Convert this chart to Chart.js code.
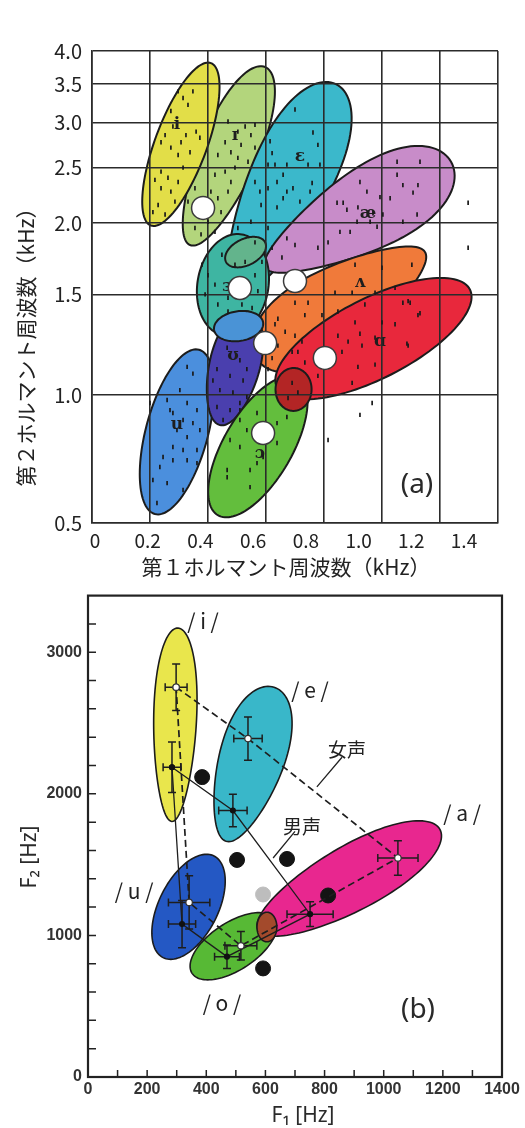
<!DOCTYPE html>
<html>
<head>
<meta charset="utf-8">
<script src="https://cdn.jsdelivr.net/npm/chart.js@4.4.1/dist/chart.umd.min.js"></script>
<style>
  html, body { margin: 0; padding: 0; background: #ffffff; }
  #wrap { position: relative; width: 525px; height: 1128px; overflow: hidden; }
  canvas { position: absolute; left: 0; }
  #chartA { top: 0; }
  #chartB { top: 580px; }
</style>
</head>
<body>
<div id="wrap">
  <canvas id="chartA" width="525" height="580"></canvas>
  <canvas id="chartB" width="525" height="548"></canvas>
</div>
<script>
// ===== (a) Peterson–Barney style vowel map: F1 (kHz, linear) vs F2 (kHz, log) =====
const f1GridA = [0, 0.2, 0.4, 0.6, 0.8, 1.0, 1.2, 1.4];
const f1TickLabelsA = ['0', '0.2', '0.4', '0.6', '0.8', '1.0', '1.2', '1.4'];
const f2TickValuesA = [0.597, 1.0, 1.5, 2.0, 2.5, 3.0, 3.5, 4.0];
const f2TickLabelsA = ['0.5', '1.0', '1.5', '2.0', '2.5', '3.0', '3.5', '4.0'];

// vowel regions: the two ends of each region's long axis (F1 kHz, F2 kHz)
const regionNamesA = ['ɪ', 'i', 'ɛ', 'æ', 'ɜ', 'ɜ∩ɪ', 'ʌ', 'u', 'ʊ', 'ʊ∩ɜ', 'ɔ', 'ɑ', 'ɑ∩ɔ'];
const regionEnd1A = [[0.338, 1.83], [0.203, 1.98], [0.490, 1.49], [0.597, 1.67], [0.455, 1.27], [0.462, 1.71],
                     [1.148, 1.78], [0.217, 0.619], [0.441, 0.886], [0.421, 1.30], [0.434, 0.616], [0.638, 1.03], [0.693, 0.938]];
const regionEnd2A = [[0.597, 3.75], [0.410, 3.81], [0.841, 3.50], [1.238, 2.56], [0.517, 1.91], [0.597, 1.85],
                     [0.566, 1.16], [0.369, 1.20], [0.538, 1.40], [0.590, 1.34], [0.710, 1.07], [1.303, 1.53], [0.697, 1.115]];
const regionAspectA = [0.30, 0.30, 0.34, 0.37, 0.69, 0.60, 0.40, 0.365, 0.43, 0.60, 0.43, 0.37, 0.84];
const regionTaperA  = [0.10, 0, 0.25, 0.35, 0, 0, 0.30, 0, 0.10, 0, 0, 0, 0];
const regionColorsA = ['#b3d57c', '#e2de48', '#3bb8cb', '#c88cc9', '#3eb5a2', '#63b48c',
                       '#f07a3a', '#4b8fdd', '#4a3fae', '#4a93d6', '#63be3d', '#e8283c', '#b32525'];

// phonetic symbols written inside the regions
const symbolTextA = ['i', 'ɪ', 'ɛ', 'æ', 'ʌ', 'ɑ', 'ɜ', 'ʊ', 'u', 'ɔ'];
const symbolF1A = [0.293, 0.493, 0.717, 0.952, 0.924, 0.993, 0.466, 0.486, 0.293, 0.579];
const symbolF2A = [2.97, 2.85, 2.61, 2.08, 1.57, 1.24, 1.55, 1.17, 0.886, 0.791];

// individual speakers' measurements (F1 kHz, F2 kHz)
const dotsI = [[0.297,3.40],[0.314,3.31],[0.348,3.40],[0.331,3.22],[0.272,3.14],[0.279,2.95],[0.252,2.85],[0.238,2.77],
  [0.272,2.71],[0.307,2.77],[0.324,2.85],[0.359,2.89],[0.372,2.82],[0.297,2.63],[0.238,2.46],[0.217,2.38],[0.262,2.40],
  [0.238,2.30],[0.272,2.27],[0.286,2.18],[0.228,2.15],[0.210,2.09],[0.252,2.07],[0.297,2.36],[0.314,2.50],[0.338,2.66]];
const dotsIH = [[0.469,3.01],[0.503,2.89],[0.528,2.95],[0.548,2.85],[0.562,2.97],[0.514,2.74],[0.479,2.66],[0.459,2.77],
  [0.434,2.63],[0.503,2.60],[0.538,2.56],[0.493,2.50],[0.459,2.46],[0.479,2.36],[0.424,2.43],[0.410,2.27],[0.469,2.27],
  [0.434,2.21],[0.355,2.30],[0.331,2.18],[0.400,2.01],[0.355,1.96],[0.376,1.91],[0.424,1.93],[0.445,2.09],[0.562,2.71]];
const dotsEH = [[0.700,3.16],[0.762,2.88],[0.779,2.74],[0.614,2.78],[0.621,2.65],[0.631,2.53],[0.672,2.53],[0.745,2.53],
  [0.786,2.53],[0.659,2.43],[0.638,2.36],[0.672,2.27],[0.693,2.30],[0.759,2.35],[0.752,2.27],[0.659,2.21],[0.638,2.13],
  [0.717,2.18],[0.579,2.27],[0.607,2.53],[0.562,2.36],[0.607,2.30],[0.583,2.15],[0.548,2.01],[0.503,1.96],[0.607,1.96],
  [0.562,1.85],[0.621,1.81]];
const dotsAE = [[1.052,2.56],[1.131,2.56],[1.052,2.43],[1.072,2.33],[1.124,2.33],[1.107,2.26],[0.948,2.27],[0.924,2.36],
  [0.993,2.22],[1.028,2.21],[0.845,2.17],[0.866,2.17],[0.879,2.11],[0.917,2.13],[0.969,2.08],[1.003,2.07],[0.959,2.01],
  [0.914,2.01],[1.072,2.01],[1.121,2.07],[0.855,1.93],[0.890,1.93],[0.983,1.97],[0.814,1.85],[0.779,1.81],[0.700,1.83],
  [0.655,1.74],[0.672,1.88]];
const dotsER = [[0.379,1.69],[0.400,1.62],[0.424,1.56],[0.434,1.44],[0.469,1.48],[0.517,1.44],[0.552,1.42],[0.562,1.62],
  [0.572,1.52],[0.586,1.71],[0.493,1.69],[0.448,1.76],[0.390,1.50],[0.469,1.40],[0.528,1.71]];
const dotsUH = [[0.907,1.69],[1.000,1.67],[1.103,1.69],[1.045,1.54],[0.976,1.51],[0.897,1.51],[0.838,1.51],[0.745,1.45],
  [0.700,1.45],[0.734,1.38],[0.793,1.38],[0.848,1.40],[0.641,1.36],[0.666,1.29],[0.700,1.27],[0.641,1.22],[0.621,1.16],
  [0.607,1.11],[0.690,1.19],[0.724,1.24],[0.941,1.44],[0.631,1.33]];
const dotsAA = [[0.907,1.34],[1.000,1.34],[1.045,1.33],[1.090,1.46],[1.124,1.38],[0.976,1.26],[0.931,1.22],[0.883,1.24],
  [0.848,1.27],[0.862,1.19],[0.814,1.16],[0.734,1.14],[0.710,1.19],[0.779,1.08],[0.917,1.12],[0.897,1.05],[1.090,1.22],
  [0.976,1.13],[1.072,1.45],[1.097,1.45],[1.131,1.39],[0.924,1.28],[1.086,1.23],[0.690,1.05],[0.710,1.01],[0.676,0.988]];
const dotsOO = [[0.476,1.17],[0.510,1.15],[0.431,1.11],[0.476,1.08],[0.521,1.06],[0.441,1.02],[0.486,1.01],[0.534,0.992],
  [0.431,0.953],[0.476,0.941],[0.510,0.968],[0.452,0.904],[0.417,1.06],[0.534,1.11],[0.466,1.21]];
const dotsU = [[0.328,1.12],[0.348,1.09],[0.303,1.02],[0.259,0.98],[0.328,0.968],[0.362,0.941],[0.279,0.930],[0.314,0.904],
  [0.348,0.893],[0.372,0.868],[0.293,0.868],[0.328,0.844],[0.279,0.811],[0.314,0.801],[0.362,0.801],[0.245,0.779],
  [0.279,0.769],[0.328,0.769],[0.362,0.760],[0.234,0.748],[0.210,0.710],[0.259,0.701],[0.314,0.682],[0.224,0.647],
  [0.269,0.941],[0.200,0.968]];
const dotsAW = [[0.510,0.941],[0.569,0.930],[0.476,0.834],[0.510,0.811],[0.534,0.868],[0.638,0.893],[0.672,0.915],
  [0.590,0.779],[0.545,0.739],[0.466,0.739],[0.466,0.718],[0.545,0.690],[0.569,0.760],[0.638,0.824],[0.614,0.868],[0.510,0.904]];
const dotsOutside = [[1.297,2.17],[1.297,1.81],[0.966,0.968],[0.924,0.923],[0.814,0.834]];

// averages marked with open circles
const meanF1A = [0.383, 0.510, 0.700, 0.597, 0.803, 0.590];
const meanF2A = [2.125, 1.539, 1.583, 1.233, 1.161, 0.858];

// ===== (b) F1–F2 plane in Hz, female and male averages =====
const f1LabelValuesB = [0, 200, 400, 600, 800, 1000, 1200, 1400];
const f2LabelValuesB = [0, 1000, 2000, 3000];

const vowelsB = ['i', 'e', 'a', 'o', 'u'];
const femaleF1 = [298, 541, 1048, 517, 342];
const femaleF2 = [2753, 2390, 1547, 927, 1233];
const femaleF1Sd = [37, 48, 68, 54, 70];
const femaleF2Sd = [164, 153, 122, 100, 188];
const maleF1 = [284, 490, 751, 470, 318];
const maleF2 = [2188, 1882, 1150, 850, 1080];
const maleF1Sd = [30, 48, 78, 42, 46];
const maleF2Sd = [178, 115, 87, 83, 167];

const otherF1 = [386, 504, 673, 812, 592];
const otherF2 = [2118, 1533, 1540, 1282, 767];
const greyF1 = [592];
const greyF2 = [1289];

// vowel regions (Hz): axis ends, aspect and taper
const regionNamesB = ['i', 'e', 'u', 'o', 'a', 'a∩o'];
const regionEnd1B = [[284, 1805], [467, 1665], [254, 843], [352, 732], [575, 1038], [605, 955]];
const regionEnd2B = [[304, 3171], [629, 2753], [426, 1561], [632, 1115], [1190, 1749], [605, 1164]];
const regionAspectB = [0.22, 0.40, 0.52, 0.48, 0.31, 0.67];
const regionTaperB = [0.15, 0.20, 0, 0, 0.10, 0];
const regionColorsB = ['#e9e64c', '#39b7c9', '#2458c4', '#57b935', '#e8278f', '#a34a2c'];

const labelTextB = ['/ i /', '/ e /', '/ a /', '/ u /', '/ o /', '女声', '男声'];
const labelF1B = [389, 751, 1265, 156, 453, 876, 724];
const labelF2B = [3219, 2732, 1861, 1317, 523, 2314, 1770];
const leaderF1B = [[859, 774], [700, 626]];
const leaderF2B = [[2258, 2049], [1735, 1547]];

// ---------- helpers ----------
const JP = '"Noto Sans CJK JP", "Noto Sans", sans-serif';

function toPixel(chart, v) {
  return { x: chart.scales.x.getPixelForValue(v[0]), y: chart.scales.y.getPixelForValue(v[1]) };
}

// closed oval between two axis ends; taper widens it toward the second end
function ovalPath(ctx, p1, p2, aspect, taper) {
  const cx = (p1.x + p2.x) / 2, cy = (p1.y + p2.y) / 2;
  const dx = p2.x - p1.x, dy = p2.y - p1.y;
  const len = Math.hypot(dx, dy);
  const a = len / 2, b = a * aspect;
  const ux = dx / len, uy = dy / len, nx = -uy, ny = ux;
  ctx.beginPath();
  const n = 120;
  for (let i = 0; i <= n; i++) {
    const t = (i / n) * Math.PI * 2;
    const c = Math.cos(t), s = Math.sin(t);
    const lx = a * c, ly = b * s * (1 + taper * c);
    const X = cx + ux * lx + nx * ly, Y = cy + uy * lx + ny * ly;
    if (i === 0) ctx.moveTo(X, Y); else ctx.lineTo(X, Y);
  }
  ctx.closePath();
}

function drawRegions(chart, ends1, ends2, aspects, tapers, colors, lw) {
  const ctx = chart.ctx;
  ctx.save();
  for (let i = 0; i < ends1.length; i++) {
    ovalPath(ctx, toPixel(chart, ends1[i]), toPixel(chart, ends2[i]), aspects[i], tapers[i]);
    ctx.fillStyle = colors[i];
    ctx.fill();
    ctx.lineWidth = lw;
    ctx.strokeStyle = '#1c1c1c';
    ctx.stroke();
  }
  ctx.restore();
}

const dotStyle = {
  showLine: false, pointStyle: 'line', rotation: 90, pointRadius: 2.2,
  pointBorderWidth: 1.7, pointBorderColor: '#1a1a1a', pointBackgroundColor: '#1a1a1a', order: 2
};
function dotSet(label, arr) {
  return Object.assign({ label, data: arr.map(p => ({ x: p[0], y: p[1] })) }, dotStyle);
}

// ---------- chart (a) ----------
const regionsPluginA = {
  id: 'regionsA',
  beforeDraw(chart) {
    drawRegions(chart, regionEnd1A, regionEnd2A, regionAspectA, regionTaperA, regionColorsA, 2);
    const ctx = chart.ctx;
    ctx.save();
    ctx.fillStyle = '#1e1e1e';
    ctx.font = 'bold 17px "DejaVu Serif", "Liberation Serif", serif';
    ctx.textAlign = 'center';
    ctx.textBaseline = 'middle';
    symbolTextA.forEach((s, i) => {
      const p = toPixel(chart, [symbolF1A[i], symbolF2A[i]]);
      ctx.fillText(s, p.x, p.y);
    });
    ctx.restore();
  }
};

const titlesPluginA = {
  id: 'titlesA',
  afterDraw(chart) {
    const ctx = chart.ctx;
    ctx.save();
    ctx.fillStyle = '#222';
    ctx.textAlign = 'center';
    ctx.textBaseline = 'middle';
    ctx.font = '21px ' + JP;
    ctx.fillText('第１ホルマント周波数（kHz）', 286, 567);
    ctx.translate(26, 342);
    ctx.rotate(-Math.PI / 2);
    ctx.fillText('第２ホルマント周波数（kHz）', 0, 0);
    ctx.restore();
    ctx.save();
    ctx.fillStyle = '#2a2a2a';
    ctx.textAlign = 'center';
    ctx.textBaseline = 'middle';
    ctx.font = '28px "Noto Sans", sans-serif';
    ctx.fillText('(a)', 417, 485);
    ctx.restore();
  }
};

new Chart(document.getElementById('chartA'), {
  type: 'scatter',
  data: {
    datasets: [
      {
        label: 'mean', data: meanF1A.map((v, i) => ({ x: v, y: meanF2A[i] })),
        pointRadius: 11.5, pointBackgroundColor: '#ffffff', pointBorderColor: '#3a3a3a',
        pointBorderWidth: 1.5, showLine: false, order: 0
      },
      dotSet('i', dotsI), dotSet('ɪ', dotsIH), dotSet('ɛ', dotsEH), dotSet('æ', dotsAE),
      dotSet('ɜ', dotsER), dotSet('ʌ', dotsUH), dotSet('ɑ', dotsAA), dotSet('ʊ', dotsOO),
      dotSet('u', dotsU), dotSet('ɔ', dotsAW), dotSet('other', dotsOutside)
    ]
  },
  options: {
    responsive: false, animation: false, devicePixelRatio: 1,
    layout: { padding: { top: 51, right: 27, left: 0, bottom: 0 } },
    plugins: { legend: { display: false }, tooltip: { enabled: false } },
    scales: {
      x: {
        type: 'linear', min: 0, max: 1.4, position: 'bottom',
        afterBuildTicks(s) { s.ticks = f1GridA.map(v => ({ value: v })); },
        ticks: { display: false },
        grid: { color: '#2b2b2b', lineWidth: 1.6, drawTicks: false },
        border: { color: '#2b2b2b', width: 1.6 },
        afterFit(s) { s.height = 0; }
      },
      xl: {
        type: 'linear', min: -0.0114, max: 1.529, position: 'bottom',
        afterBuildTicks(s) { s.ticks = f1GridA.map(v => ({ value: v })); },
        ticks: {
          padding: 6, color: '#222', maxRotation: 0, autoSkip: false,
          font: { family: JP, size: 19 },
          callback: (v, i) => f1TickLabelsA[i]
        },
        grid: { display: false, drawTicks: false },
        border: { display: false },
        afterFit(s) { s.height = 57; }
      },
      y: {
        type: 'logarithmic', min: 0.597, max: 4.0,
        afterBuildTicks(s) { s.ticks = f2TickValuesA.map(v => ({ value: v })); },
        ticks: {
          padding: 10, color: '#222', autoSkip: false,
          font: { family: JP, size: 20 },
          callback: (v, i) => f2TickLabelsA[i]
        },
        grid: { color: '#2b2b2b', lineWidth: 1.6, drawTicks: false },
        border: { color: '#2b2b2b', width: 1.6 },
        afterFit(s) { s.width = 92; }
      }
    }
  },
  plugins: [regionsPluginA, titlesPluginA]
});

// ---------- chart (b) ----------
function drawErrorBars(chart, f1, f2, e1, e2) {
  const ctx = chart.ctx, xs = chart.scales.x, ys = chart.scales.y;
  const cap = 4;
  ctx.beginPath();
  for (let i = 0; i < f1.length; i++) {
    const x = xs.getPixelForValue(f1[i]), y = ys.getPixelForValue(f2[i]);
    const xl = xs.getPixelForValue(f1[i] - e1[i]), xr = xs.getPixelForValue(f1[i] + e1[i]);
    const yt = ys.getPixelForValue(f2[i] + e2[i]), yb = ys.getPixelForValue(f2[i] - e2[i]);
    ctx.moveTo(xl, y); ctx.lineTo(xr, y);
    ctx.moveTo(xl, y - cap); ctx.lineTo(xl, y + cap);
    ctx.moveTo(xr, y - cap); ctx.lineTo(xr, y + cap);
    ctx.moveTo(x, yt); ctx.lineTo(x, yb);
    ctx.moveTo(x - cap, yt); ctx.lineTo(x + cap, yt);
    ctx.moveTo(x - cap, yb); ctx.lineTo(x + cap, yb);
  }
  ctx.stroke();
}

const regionsPluginB = {
  id: 'regionsB',
  beforeDatasetsDraw(chart) {
    drawRegions(chart, regionEnd1B, regionEnd2B, regionAspectB, regionTaperB, regionColorsB, 1.6);
    const ctx = chart.ctx;
    ctx.save();
    ctx.strokeStyle = '#1e1e1e';
    ctx.lineWidth = 1.5;
    drawErrorBars(chart, femaleF1, femaleF2, femaleF1Sd, femaleF2Sd);
    drawErrorBars(chart, maleF1, maleF2, maleF1Sd, maleF2Sd);
    ctx.restore();
  }
};

const framePluginB = {
  id: 'frameB',
  afterDatasetsDraw(chart) {
    const { ctx, chartArea: ca, scales: { x, y } } = chart;
    ctx.save();
    ctx.strokeStyle = '#222';
    ctx.lineWidth = 1.5;
    ctx.beginPath();
    x.ticks.forEach(t => {
      const px = x.getPixelForValue(t.value);
      if (px > ca.left + 2 && px < ca.right - 2) { ctx.moveTo(px, ca.bottom); ctx.lineTo(px, ca.bottom - 7); }
    });
    y.ticks.forEach(t => {
      const py = y.getPixelForValue(t.value);
      if (py < ca.bottom - 2 && py > ca.top + 2) { ctx.moveTo(ca.left, py); ctx.lineTo(ca.left + 8, py); }
    });
    ctx.stroke();
    ctx.lineWidth = 2.2;
    ctx.strokeRect(ca.left, ca.top, ca.right - ca.left, ca.bottom - ca.top);

    // leader lines for the two speaker groups
    ctx.lineWidth = 1.3;
    ctx.beginPath();
    leaderF1B.forEach((pair, i) => {
      ctx.moveTo(x.getPixelForValue(pair[0]), y.getPixelForValue(leaderF2B[i][0]));
      ctx.lineTo(x.getPixelForValue(pair[1]), y.getPixelForValue(leaderF2B[i][1]));
    });
    ctx.stroke();

    ctx.fillStyle = '#222';
    ctx.textAlign = 'center';
    ctx.textBaseline = 'middle';
    labelTextB.forEach((t, i) => {
      ctx.font = (i >= 5 ? '19px ' : '21px ') + JP;
      ctx.fillText(t, x.getPixelForValue(labelF1B[i]), y.getPixelForValue(labelF2B[i]));
    });

    ctx.font = '21px "Noto Sans", sans-serif';
    ctx.fillStyle = '#2a2a2a';
    ctx.fillText('F₁ [Hz]', 303, 536);
    ctx.save();
    ctx.translate(30, 277);
    ctx.rotate(-Math.PI / 2);
    ctx.fillText('F₂ [Hz]', 0, 0);
    ctx.restore();
    ctx.font = '28px "Noto Sans", sans-serif';
    ctx.fillText('(b)', 418, 430);
    ctx.restore();
  }
};

const closeLoop = (a, b) => a.map((v, i) => ({ x: v, y: b[i] })).concat([{ x: a[0], y: b[0] }]);

new Chart(document.getElementById('chartB'), {
  type: 'scatter',
  data: {
    datasets: [
      {
        label: '女声', data: closeLoop(femaleF1, femaleF2), showLine: true,
        borderColor: '#1e1e1e', borderWidth: 1.7, borderDash: [7, 4], fill: false,
        pointRadius: 3.2, pointBackgroundColor: '#ffffff', pointBorderColor: '#333', pointBorderWidth: 1.2, order: 0
      },
      {
        label: '男声', data: closeLoop(maleF1, maleF2), showLine: true,
        borderColor: '#1e1e1e', borderWidth: 1.3, fill: false,
        pointRadius: 2.4, pointBackgroundColor: '#111', pointBorderColor: '#111', order: 1
      },
      {
        label: 'other', data: otherF1.map((v, i) => ({ x: v, y: otherF2[i] })), showLine: false,
        pointRadius: 7.5, pointBackgroundColor: '#141414', pointBorderColor: '#141414', order: 2
      },
      {
        label: 'grey', data: greyF1.map((v, i) => ({ x: v, y: greyF2[i] })), showLine: false,
        pointRadius: 7.5, pointBackgroundColor: '#bdbdbd', pointBorderColor: '#bdbdbd', order: 3
      }
    ]
  },
  options: {
    responsive: false, animation: false, devicePixelRatio: 1,
    layout: { padding: { top: 10, right: 23, left: 0, bottom: 0 } },
    plugins: { legend: { display: false }, tooltip: { enabled: false } },
    scales: {
      x: {
        type: 'linear', min: 0, max: 1400,
        ticks: {
          stepSize: 100, padding: 3, color: '#333', autoSkip: false, maxRotation: 0,
          font: { family: '"Liberation Sans", Arial, sans-serif', size: 16, weight: 'bold' },
          callback: v => (f1LabelValuesB.includes(v) ? String(v) : '')
        },
        grid: { display: false, drawTicks: false },
        border: { display: false },
        afterFit(s) { s.height = 51; }
      },
      y: {
        type: 'linear', min: 0, max: 3400,
        ticks: {
          stepSize: 200, padding: 6, color: '#333', autoSkip: false,
          font: { family: '"Liberation Sans", Arial, sans-serif', size: 16, weight: 'bold' },
          callback: v => (f2LabelValuesB.includes(v) ? String(v) : '')
        },
        grid: { display: false, drawTicks: false },
        border: { display: false },
        afterFit(s) { s.width = 88; }
      }
    }
  },
  plugins: [regionsPluginB, framePluginB]
});
</script>
</body>
</html>
